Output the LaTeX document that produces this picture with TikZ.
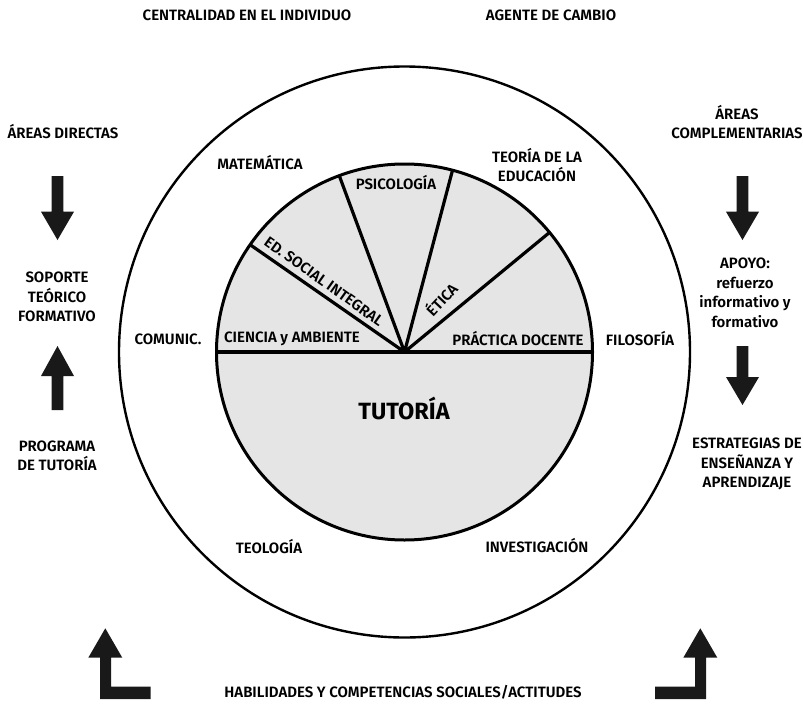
\documentclass[tikz,border=0pt]{standalone}
\usepackage{fontspec}
\setmainfont{Fira Sans}[UprightFont={* SemiBold}, BoldFont={* Bold}]
\definecolor{pie}{RGB}{229,229,229}
\begin{document}
\begin{tikzpicture}[x=1pt,y=-1pt,
  lbl/.style={font=\fontsize{15}{19.5}\selectfont, inner sep=0pt, align=center},
  big/.style={font=\bfseries\fontsize{23.5}{25}\selectfont, inner sep=0pt},
  blk/.style={fill=black!90, draw=none}]
\useasboundingbox (0,0) rectangle (803,704);
\coordinate (c) at (404.5,352);
% outer circle
\draw[line width=2.4pt] (c) circle (285.5);
% inner pie
\fill[pie] (c) circle (188);
\draw[line width=3pt] (c) circle (188);
\coordinate (w) at ([shift={(c)}]180:188);
\coordinate (e) at ([shift={(c)}]0:188);
\coordinate (s1) at ([shift={(c)}]-145.2:188);
\coordinate (s2) at ([shift={(c)}]-110.3:188);
\coordinate (s3) at ([shift={(c)}]-75.2:188);
\coordinate (s4) at ([shift={(c)}]-39.5:188);
\draw[line width=3.4pt] (w) -- (e);
\draw[line width=3.2pt] (c) -- (s1) (c) -- (s2) (c) -- (s3) (c) -- (s4);
% inner labels
\node[lbl] (psi) at (396,183) {PSICOLOGÍA};
\node[lbl, rotate=-35.5] (eds) at (324,281.5) {ED. SOCIAL INTEGRAL};
\node[lbl, rotate=47] (eti) at (441,299) {ÉTICA};
\node[lbl] (cie) at (292,338.5) {CIENCIA y AMBIENTE};
\node[lbl] (pra) at (518,338.5) {PRÁCTICA DOCENTE};
\node[big] (tut) at (404,408) {TUTORÍA};
% ring labels
\node[lbl] (mat) at (260,163) {MATEMÁTICA};
\node[lbl] (teo) at (537,165) {TEORÍA DE LA\\EDUCACIÓN};
\node[lbl] (com) at (168,339) {COMUNIC.};
\node[lbl] (fil) at (640,339) {FILOSOFÍA};
\node[lbl] (teol) at (269,547) {TEOLOGÍA};
\node[lbl] (inv) at (537,546) {INVESTIGACIÓN};
% top labels
\node[lbl] (cen) at (247,15) {CENTRALIDAD EN EL INDIVIDUO};
\node[lbl] (age) at (551,15) {AGENTE DE CAMBIO};
% left column
\node[lbl] (ard) at (63,132) {ÁREAS DIRECTAS};
\node[lbl] (sop) at (57,297) {SOPORTE\\TEÓRICO\\FORMATIVO};
\node[lbl] (pro) at (57,456) {PROGRAMA\\DE TUTORÍA};
% right column
\node[lbl] (arc) at (737,122) {ÁREAS\\COMPLEMENTARIAS};
\node[lbl] (apo) at (745,293) {APOYO:\\refuerzo\\informativo y\\formativo};
\node[lbl] (est) at (747,464) {ESTRATEGIAS DE\\ENSEÑANZA Y\\APRENDIZAJE};
% bottom
\node[lbl] (hab) at (403,692) {HABILIDADES Y COMPETENCIAS SOCIALES/ACTITUDES};
% block arrows left
\fill[blk] (51.7,176) -- (63.3,176) -- (63.3,211.7) -- (74,211.7) -- (57.5,240) -- (41,211.7) -- (51.7,211.7) -- cycle;
\fill[blk] (51.7,410) -- (63.3,410) -- (63.3,376) -- (74,376) -- (57.5,346) -- (41,376) -- (51.7,376) -- cycle;
% block arrows right
\fill[blk] (736.7,176) -- (748.3,176) -- (748.3,211.7) -- (759,211.7) -- (742.5,240) -- (726,211.7) -- (736.7,211.7) -- cycle;
\fill[blk] (736.7,346) -- (748.3,346) -- (748.3,377) -- (759,377) -- (742.5,405) -- (726,377) -- (736.7,377) -- cycle;
% L arrows bottom
\fill[blk] (100,699) -- (100,657.7) -- (88.3,657.7) -- (105.3,628.3) -- (122.3,657.7) -- (111,657.7) -- (111,686.7) -- (150.7,686.7) -- (150.7,699) -- cycle;
\fill[blk] (706,699) -- (706,657.7) -- (717.3,657.7) -- (700.3,628.3) -- (683.3,657.7) -- (695,657.7) -- (695,686.7) -- (655,686.7) -- (655,699) -- cycle;
\end{tikzpicture}
\end{document}
